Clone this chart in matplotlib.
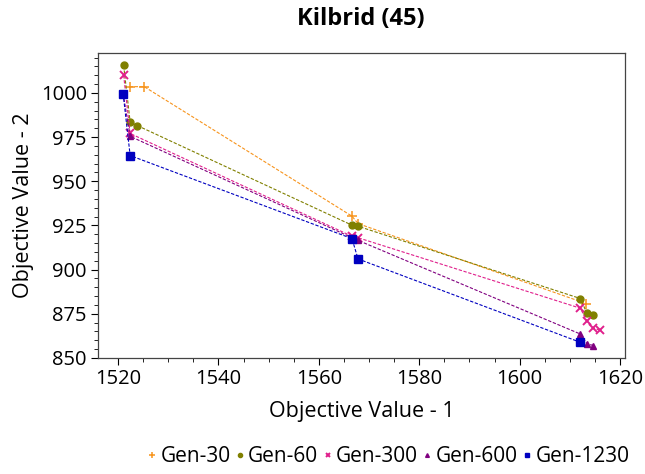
import matplotlib
matplotlib.use('Agg')
import matplotlib.pyplot as plt
from matplotlib.ticker import MultipleLocator

plt.rcParams['font.family'] = ['Open Sans', 'DejaVu Sans']

# 各代的帕累托前沿点 (目标1, 目标2)
gen30_x = [1522.3, 1525.2, 1566.6, 1567.8, 1613.3]
gen30_y = [1003.5, 1003.5, 930.2, 926.0, 880.7]

gen60_x = [1521.1, 1522.4, 1523.8, 1566.6, 1567.8, 1612.1, 1613.4, 1614.7]
gen60_y = [1015.5, 983.5, 981.5, 925.1, 924.5, 883.6, 875.3, 874.2]

gen300_x = [1521.1, 1522.4, 1566.6, 1567.8, 1612.1, 1613.4, 1614.7, 1616.0]
gen300_y = [1010.0, 977.0, 918.8, 918.0, 878.1, 870.9, 866.8, 865.7]

gen600_x = [1521.0, 1522.4, 1566.6, 1567.8, 1612.1, 1613.4, 1614.7]
gen600_y = [999.5, 975.4, 918.0, 916.5, 863.5, 858.0, 857.0]

gen1230_x = [1521.0, 1522.4, 1566.6, 1567.8, 1612.1]
gen1230_y = [999.5, 964.5, 917.5, 906.0, 858.8]

series = [
    ('Gen-30', gen30_x, gen30_y, '#F7941D', '+', 7, 1.1),
    ('Gen-60', gen60_x, gen60_y, '#808000', 'o', 5, 1.0),
    ('Gen-300', gen300_x, gen300_y, '#E0208C', 'x', 6, 1.4),
    ('Gen-600', gen600_x, gen600_y, '#800080', '^', 4.5, 1.0),
    ('Gen-1230', gen1230_x, gen1230_y, '#0000C0', 's', 5.5, 1.0),
]

fig = plt.figure(figsize=(6.45, 4.74), dpi=100)
ax = fig.add_axes([0.152, 0.245, 0.817, 0.643])

handles = []
for name, xs, ys, c, m, ms, mew in series:
    ax.plot(xs, ys, color=c, linestyle='--', linewidth=0.8, dashes=(3, 1.5))
    h, = ax.plot(xs, ys, color=c, linestyle='none', marker=m, markersize=ms,
                 markeredgewidth=mew, label=name)
    handles.append(h)

ax.set_xlim(1516, 1621)
ax.set_ylim(850, 1022.5)
ax.xaxis.set_major_locator(MultipleLocator(20))
ax.xaxis.set_minor_locator(MultipleLocator(5))
ax.yaxis.set_major_locator(MultipleLocator(25))
ax.yaxis.set_minor_locator(MultipleLocator(5))
ax.tick_params(which='major', length=5, width=0.8, labelsize=14.5, pad=3)
ax.tick_params(which='minor', length=3, width=0.6)
for s in ax.spines.values():
    s.set_color('#444444')
    s.set_linewidth(0.9)

ax.set_xlabel('Objective Value - 1', fontsize=15.5, labelpad=9)
ax.set_ylabel('Objective Value - 2', fontsize=15.5, labelpad=5)
fig.suptitle('Kilbrid (45)', fontsize=17, fontweight='bold', x=0.56, y=0.985)

fig.legend(handles=handles, loc='lower center', bbox_to_anchor=(0.6, -0.025),
           ncol=5, frameon=False, fontsize=15, handletextpad=0.05,
           columnspacing=0.1, handlelength=0.7, markerscale=0.6)

fig.savefig('out.png', dpi=100)
